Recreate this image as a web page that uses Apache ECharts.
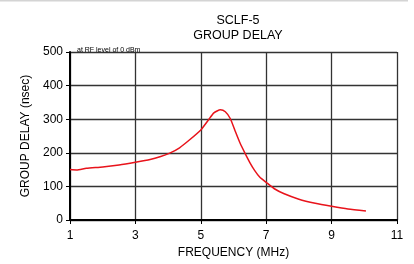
<!DOCTYPE html>
<html><head><meta charset="utf-8">
<script src="https://cdn.jsdelivr.net/npm/echarts@6/dist/echarts.min.js"></script>
<style>html,body{margin:0;padding:0;background:#fff}#c{width:414px;height:264px}</style>
</head><body><div id="c"></div>
<script>
const freqMHz = [1.0, 1.2, 1.5, 2.0, 2.5, 3.0, 3.45, 3.75, 4.05, 4.35, 4.65, 5.0, 5.25, 5.4, 5.6, 5.75, 5.9, 6.05, 6.2, 6.35, 6.5, 6.65, 6.8, 7.0, 7.25, 7.55, 8.0, 8.5, 9.0, 9.5, 10.05];
const delayNs = [150, 149, 154, 158, 164, 172, 180, 188, 199, 215, 238, 268, 300, 319, 328, 322, 302, 265, 229, 199, 171, 147, 128, 112, 93, 78, 62, 50, 41, 33, 27];
const xTicks = [1, 3, 5, 7, 9, 11];
const yTicks = [0, 100, 200, 300, 400, 500];
const titleLines = ['SCLF-5', 'GROUP DELAY'];
const noteText = 'at RF level of 0 dBm';
const xName = 'FREQUENCY (MHz)';
const yName = 'GROUP DELAY (nsec)';

const chart = echarts.init(document.getElementById('c'), null, {renderer: 'canvas'});
const ff = 'Liberation Sans, Arial, sans-serif';
chart.setOption({
  animation: false,
  backgroundColor: '#fff',
  title: [{
    text: titleLines.join('\n'), left: 233, top: 8, textAlign: 'center',
    textStyle: {fontFamily: ff, fontSize: 12.5, fontWeight: 'normal', color: '#000', lineHeight: 15}
  }, {
    text: noteText, left: 72, top: 42,
    textStyle: {fontFamily: ff, fontSize: 7, fontWeight: 'normal', color: '#000'}
  }],
  graphic: [{type: 'rect', shape: {x: 0, y: 0, width: 408, height: 1.5}, style: {fill: '#d4d4d4'}, silent: true}],
  grid: {left: 70, right: 17, top: 52, bottom: 40, containLabel: false},
  xAxis: {
    type: 'value', min: xTicks[0], max: xTicks[xTicks.length - 1], interval: 2,
    name: xName, nameLocation: 'middle', nameGap: 27,
    nameTextStyle: {fontFamily: ff, fontSize: 12, color: '#000'},
    axisLine: {show: true, onZero: false, lineStyle: {color: '#000', width: 2}},
    axisTick: {show: true, inside: false, length: 4, lineStyle: {color: '#000', width: 1}},
    axisLabel: {fontFamily: ff, fontSize: 12, color: '#000', margin: 10},
    splitLine: {show: true, lineStyle: {color: '#333', width: 1.3}}
  },
  yAxis: {
    type: 'value', min: yTicks[0], max: yTicks[yTicks.length - 1], interval: 100,
    name: yName, nameLocation: 'middle', nameGap: 38, nameRotate: 90,
    nameTextStyle: {fontFamily: ff, fontSize: 12, color: '#000'},
    axisLine: {show: true, lineStyle: {color: '#000', width: 2}},
    axisTick: {show: true, inside: false, length: 4, lineStyle: {color: '#000', width: 1}},
    axisLabel: {fontFamily: ff, fontSize: 12, color: '#000', margin: 7},
    splitLine: {show: true, lineStyle: {color: '#333', width: 1.3}}
  },
  series: [{
    type: 'line', data: freqMHz.map((f, i) => [f, delayNs[i]]),
    smooth: 0.2, symbol: 'none', lineStyle: {color: '#e8131b', width: 1.5}
  }]
});
</script></body></html>
